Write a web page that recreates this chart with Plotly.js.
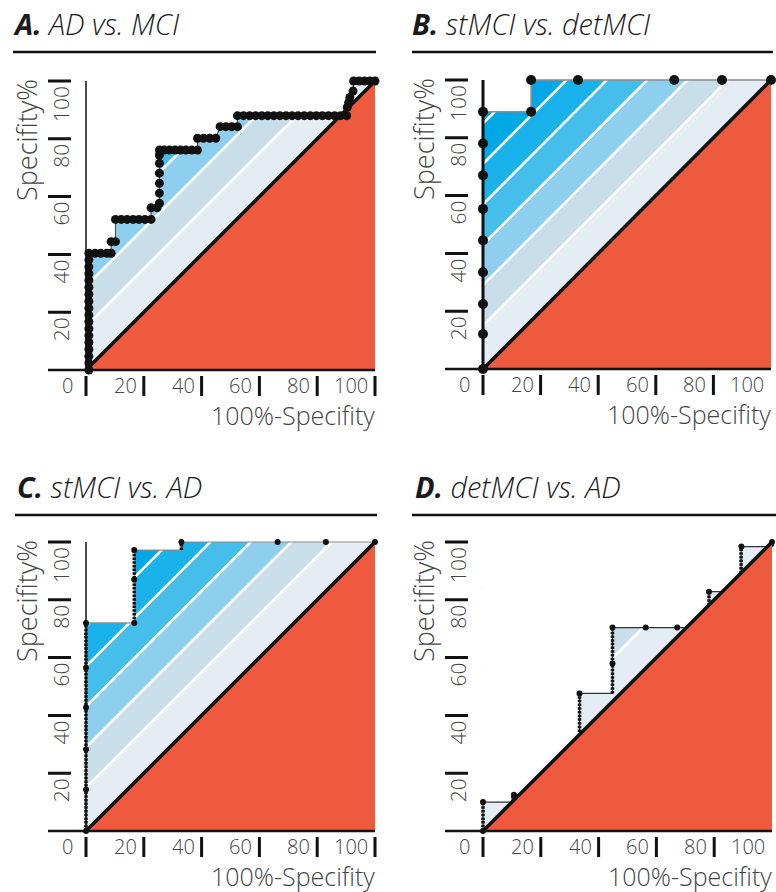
<!DOCTYPE html>
<html><head><meta charset="utf-8">
<script src="https://cdn.plot.ly/plotly-3.0.1.min.js"></script>
<style>html,body{margin:0;padding:0;background:#fff}#chart{width:776px;height:892px}</style>
</head><body><div id="chart"></div>
<script>
// ================= DATA =================
const panelLetters = ['A.', 'B.', 'C.', 'D.'];
const panelNames = ['AD vs. MCI', 'stMCI vs. detMCI', 'stMCI vs. AD', 'detMCI vs. AD'];

const xTickVals = [0, 20, 40, 60, 80, 100];
const xTickText = ['0', '20', '40', '60', '80', '100'];
const yTickVals = [20, 40, 60, 80, 100];
const yTickText = ['20', '40', '60', '80', '100'];
const xAxisTitle = '100%-Specifity';
const yAxisTitle = 'Specifity%';

// A. AD vs. MCI  (100%-Specificity, Sensitivity) points of the ROC curve
const aFpr = [1,1,1,1,1,1,1,1,1,1,1,1,1,1,1,1,1,1,
  3.1,5.1,7.2,8.7, 8.7,10.2,
  10.2,12.2,14.2,16.3,18.3,20.4,22.5, 22.5,24.6,
  25.4,25.4,25.4,25.4,25.4,25.4,25.4,
  27.0,28.9,30.8,32.7,34.6,36.6,38.6,
  38.6,40.7,42.8,44.9,
  46.4,48.4,50.4,52.4,
  52.4,54.5,56.6,58.7,60.8,62.9,65.0,67.1,69.2,71.3,73.4,75.5,77.6,79.7,81.8,83.9,86.0,88.1,90.2,
  90.4,90.9,91.3,92.4,92.6,94.5,96.4,98.2,100];
const aTpr = [0,2.4,4.8,7.1,9.5,11.9,14.3,16.7,19.0,21.4,23.8,26.2,28.6,31.0,33.3,35.7,38.1,40.4,
  40.4,40.4,40.4,40.4, 44.4,44.4,
  52.1,52.1,52.1,52.1,52.1,52.1,52.1, 56.1,56.1,
  57.7,61.2,64.6,68.1,71.5,74.4,76.1,
  76.1,76.1,76.1,76.1,76.1,76.1,76.1,
  80.2,80.2,80.2,80.2,
  84.2,84.2,84.2,84.2,
  88,88,88,88,88,88,88,88,88,88,88,88,88,88,88,88,88,88,88,
  90.9,92.6,94.3,96.5,100,100,100,100,100];

// B. stMCI vs. detMCI
const bRocFpr = [0, 0, 16.7, 16.7, 100];
const bRocTpr = [0, 89, 89, 100, 100];
const bDotFpr = [0,0,0,0,0,0,0,0,0,16.7,16.7,33,66.4,83,100];
const bDotTpr = [0,12.1,22.5,33.5,44.5,55.4,67,78,89,89,100,100,100,100,100];

// C. stMCI vs. AD
const cRocFpr = [0, 0, 16.7, 16.7, 33, 33, 100];
const cRocTpr = [0, 72, 72, 97.2, 97.2, 100, 100];
const cDotFpr = [0,0,0,0,0,0,16.7,16.7,16.7,33,66.3,83,100];
const cDotTpr = [0,14.4,28.3,42.7,56.5,72,72,87,97.2,100,100,100,100];

// D. detMCI vs. AD
const dRocFpr = [0, 0, 10.3, 10.3, 33.4, 33.4, 44.8, 44.8, 78.2, 78.2, 89.3, 89.3, 100, 100];
const dRocTpr = [0, 10, 10, 12.5, 12.5, 47.6, 47.6, 70.4, 70.4, 82.8, 82.8, 98.4, 98.4, 100];
const dDotFpr = [0, 0, 10.7, 33.4, 44.8, 44.8, 56.3, 67.2, 78.2, 89.4, 100];
const dDotTpr = [0, 10, 12.5, 47.6, 58, 70.4, 70.4, 70.4, 82.8, 98.4, 100];

// diagonal stripe bands (by distance above the chance line, TPR - FPR)
const bandEdges = [0, 15, 29, 43, 57, 71, 85, 100];

// ================= STYLE =================
const W = 776, H = 892;
const bandColors = ['#E3EDF3', '#C8DEEB', '#8ECFEF', '#46BEEC', '#1AB2EA', '#00A8E6', '#0899D9'];
const GAP = 1.3;
const RED = '#EE5A3D';
const FONT = 'Open Sans, Liberation Sans, sans-serif';
const TXT = '#444';

const panels = [
  {rx: aFpr, ry: aTpr, dx: aFpr, dy: aTpr, px: [86, 375, 370, 81], title: [13, 24], uline: [13, 376, 52],
   dotSize: 9, lineColor: '#555', lineWidth: 1.2, beads: false, yAxisWidth: 1.5, padR: 3, lastBar: true},
  {rx: bRocFpr, ry: bRocTpr, dx: bDotFpr, dy: bDotTpr, px: [483, 771, 369, 80], title: [412, 24], uline: [412, 773, 52],
   dotSize: 10, lineColor: '#8c8c8c', lineWidth: 1.5, beads: false, yAxisWidth: 3, padR: 1.5, lastBar: false},
  {rx: cRocFpr, ry: cRocTpr, dx: cDotFpr, dy: cDotTpr, px: [86, 375, 831, 542], title: [17, 487], uline: [15, 377, 515],
   dotSize: 6, lineColor: '#8c8c8c', lineWidth: 1.2, beads: true, yAxisWidth: 1.5, padR: 3, lastBar: true},
  {rx: dRocFpr, ry: dRocTpr, dx: dDotFpr, dy: dDotTpr, px: [483, 772, 831, 542], title: [415, 487], uline: [412, 776, 515],
   dotSize: 6, lineColor: '#333', lineWidth: 1.2, beads: true, yAxisWidth: 0, padR: 1.2, lastBar: false}
];

const traces = [], shapes = [], annotations = [];
const layout = {
  width: W, height: H, margin: {l: 0, r: 0, t: 0, b: 0},
  paper_bgcolor: '#fff', plot_bgcolor: 'rgba(0,0,0,0)', showlegend: false,
  shapes: shapes, annotations: annotations, hovermode: false
};

panels.forEach((p, i) => {
  const xa = i === 0 ? 'x' : 'x' + (i + 1);
  const ya = i === 0 ? 'y' : 'y' + (i + 1);
  const [x0px, x100px, y0px, y100px] = p.px;
  const sx = (x100px - x0px) / 100, sy = (y0px - y100px) / 100;
  const padL = 15, padR = p.padR, padB = 12, padT = 3;
  layout[(i === 0 ? 'xaxis' : 'xaxis' + (i + 1))] = {
    domain: [(x0px - padL * sx) / W, Math.min(1, (x100px + padR * sx) / W)],
    range: [-padL, 100 + padR], anchor: ya, showgrid: false, zeroline: false,
    showticklabels: false, ticks: '', showline: false, fixedrange: true
  };
  layout[(i === 0 ? 'yaxis' : 'yaxis' + (i + 1))] = {
    domain: [1 - (y0px + padB * sy) / H, 1 - (y100px - padT * sy) / H],
    range: [-padB, 100 + padT], anchor: xa, showgrid: false, zeroline: false,
    showticklabels: false, ticks: '', showline: false, fixedrange: true
  };
  const base = {type: 'scatter', xaxis: xa, yaxis: ya, hoverinfo: 'skip', showlegend: false};

  // striped bands
  for (let k = 0; k < bandEdges.length - 1; k++) {
    const a = bandEdges[k] + (k > 0 ? GAP / 2 : 0);
    const b = bandEdges[k + 1] - (k < bandEdges.length - 2 ? GAP / 2 : 0);
    traces.push(Object.assign({}, base, {
      x: [0, 0, 100 - b, 100 - a], y: [a, b, 100, 100], mode: 'lines',
      fill: 'toself', fillcolor: bandColors[k], line: {width: 0}
    }));
  }
  // white mask above the ROC curve
  traces.push(Object.assign({}, base, {
    x: [0].concat(p.rx, [100, 100, 0, 0]),
    y: [0].concat(p.ry, [100, 100 + padT, 100 + padT, 0]),
    mode: 'lines', fill: 'toself', fillcolor: '#ffffff', line: {width: 0}
  }));
  // ROC connecting line
  traces.push(Object.assign({}, base, {
    x: p.rx, y: p.ry, mode: 'lines', line: {color: p.lineColor, width: p.lineWidth}
  }));
  // beaded vertical (tied) segments
  if (p.beads) {
    const bx = [], by = [];
    for (let j = 1; j < p.rx.length; j++) {
      if (p.rx[j] === p.rx[j - 1] && p.ry[j] !== p.ry[j - 1]) {
        bx.push(p.rx[j - 1], p.rx[j], null); by.push(p.ry[j - 1], p.ry[j], null);
      }
    }
    traces.push(Object.assign({}, base, {
      x: bx, y: by, mode: 'lines', connectgaps: false,
      line: {color: '#111', width: 3.5, dash: '2.5px,1.2px'}
    }));
  }
  // red area under the chance line
  traces.push(Object.assign({}, base, {
    x: [0, 100, 100, 0], y: [0, 0, 100, 0], mode: 'lines', fill: 'toself',
    fillcolor: RED, line: {width: 0}
  }));
  // chance diagonal
  traces.push(Object.assign({}, base, {
    x: [0, 100], y: [0, 100], mode: 'lines', line: {color: '#111', width: 3.5}
  }));
  // dots
  traces.push(Object.assign({}, base, {
    x: p.dx, y: p.dy, mode: 'markers', cliponaxis: false,
    marker: {color: '#111', size: p.dotSize, line: {width: 0}}
  }));

  // axis lines
  shapes.push({type: 'line', xref: xa, yref: ya, x0: 0, x1: 100, y0: 0, y1: 0, line: {color: '#111', width: 2.5}});
  shapes.push({type: 'line', xref: xa, yref: ya, xsizemode: 'pixel', xanchor: 0, x0: -38, x1: 0, y0: 0, y1: 0, line: {color: '#111', width: 2.5}});
  if (p.yAxisWidth > 0) {
    shapes.push({type: 'line', xref: xa, yref: ya, x0: 0, x1: 0, y0: 0, y1: 100, line: {color: '#111', width: p.yAxisWidth}});
  }
  // tick bars
  xTickVals.forEach((v, j) => {
    if (!p.lastBar && j === xTickVals.length - 1) return;
    shapes.push({type: 'line', xref: xa, yref: ya, x0: v, x1: v, ysizemode: 'pixel', yanchor: 0, y0: -6, y1: -26,
      line: {color: '#111', width: 3}});
  });
  yTickVals.forEach(v => {
    shapes.push({type: 'line', xref: xa, yref: ya, xsizemode: 'pixel', xanchor: 0, x0: -38, x1: -15, y0: v, y1: v,
      line: {color: '#111', width: 3}});
  });
  // tick labels
  xTickVals.forEach((v, j) => {
    annotations.push({xref: xa, yref: ya, x: v, y: 0, text: xTickText[j], showarrow: false,
      xanchor: 'right', yanchor: 'top', xshift: v === 0 ? -12 : -6, yshift: -1, borderpad: 0,
      font: {family: FONT, size: 20, color: TXT, weight: 300}});
  });
  yTickVals.forEach((v, j) => {
    annotations.push({xref: xa, yref: ya, x: 0, y: v, text: yTickText[j], showarrow: false, textangle: -90,
      xanchor: 'center', yanchor: 'top', xshift: -25, yshift: -4, borderpad: 0,
      font: {family: FONT, size: 21, color: TXT, weight: 300}});
  });
  // axis titles
  annotations.push({xref: xa, yref: ya, x: 100, y: 0, text: xAxisTitle, showarrow: false,
    xanchor: 'right', yanchor: 'top', yshift: -27, xshift: 1, borderpad: 0,
    font: {family: FONT, size: 25, color: TXT, weight: 300}});
  annotations.push({xref: xa, yref: ya, x: 0, y: 79.6, text: yAxisTitle, showarrow: false, textangle: -90,
    xanchor: 'center', yanchor: 'middle', xshift: -59, borderpad: 0,
    font: {family: FONT, size: 27, color: TXT, weight: 300}});
  // panel title + underline
  annotations.push({xref: 'paper', yref: 'paper', x: p.title[0] / W, y: 1 - p.title[1] / H,
    text: '<b><i>' + panelLetters[i] + '</i></b><i> ' + panelNames[i] + '</i>', showarrow: false,
    xanchor: 'left', yanchor: 'middle', xshift: -2, font: {family: FONT, size: 29, color: '#1a1a1a', weight: 300}});
  shapes.push({type: 'line', xref: 'paper', yref: 'paper', x0: p.uline[0] / W, x1: p.uline[1] / W,
    y0: 1 - p.uline[2] / H, y1: 1 - p.uline[2] / H, line: {color: '#111', width: 2.5}});
});

Plotly.newPlot('chart', traces, layout, {staticPlot: true, displayModeBar: false});
</script>
</body></html>
